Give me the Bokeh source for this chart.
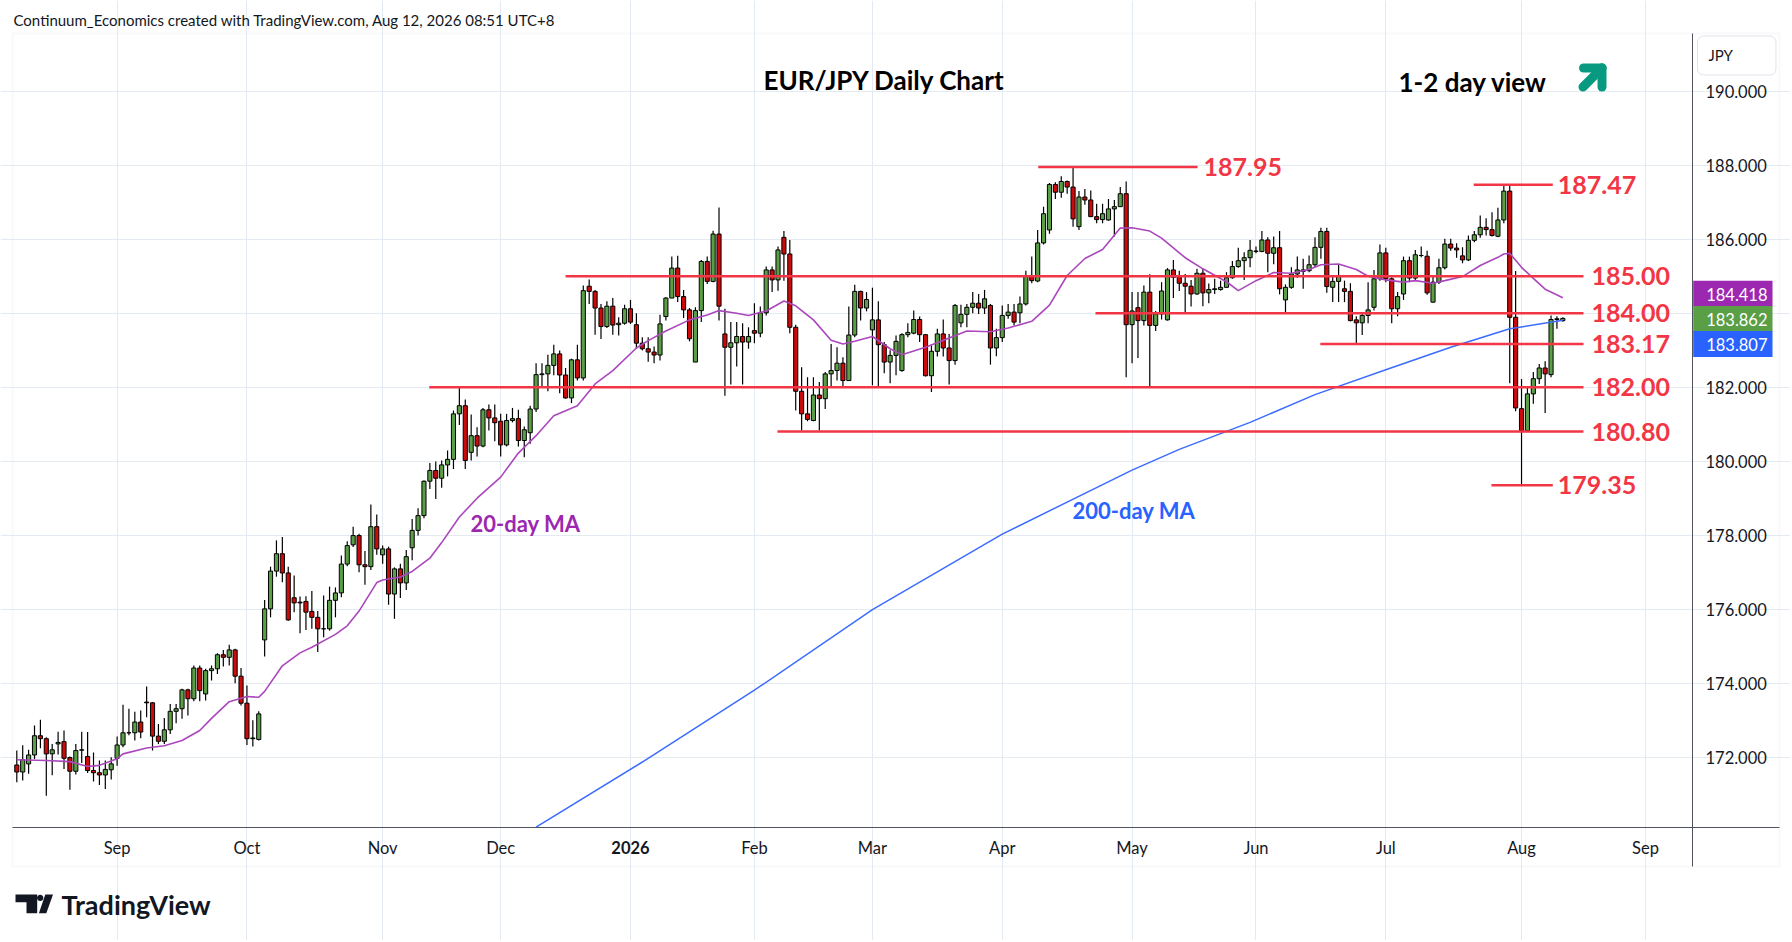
import math
import pandas as pd
from bokeh.plotting import figure
from bokeh.models import (ColumnDataSource, FixedTicker, Label, Arrow, BoxAnnotation,
                          PolyAnnotation, Range1d, PrintfTickFormatter)
from bokeh.embed import file_html
from bokeh.resources import INLINE

# ---------------- data ----------------
HOLIDAYS = ["2025-12-25", "2026-01-01"]
dates = pd.bdate_range("2025-08-07", "2026-08-12", freq="C", holidays=HOLIDAYS)
axis_days = pd.bdate_range("2025-08-07", "2026-09-30", freq="C", holidays=HOLIDAYS)

opens = [
    171.79,171.60,171.82,172.06,172.58,172.50,172.09,172.36,172.42,171.99,171.62,172.19,172.02,171.64,171.58,171.52,171.66,
    171.97,172.33,172.66,172.66,172.95,173.49,173.47,172.57,172.43,172.74,173.24,173.31,173.82,173.58,174.41,173.71,174.34,174.39,174.77,174.70,174.90,174.19,
    173.46,172.50,172.48,175.17,176.01,177.03,177.50,176.98,176.31,176.19,176.21,175.94,175.78,175.47,175.47,176.24,176.44,177.22,177.74,177.99,177.20,177.15,178.23,
    177.47,177.63,176.41,177.09,176.71,177.66,178.13,178.53,179.46,179.75,179.54,179.90,180.05,181.28,181.50,180.24,180.69,180.41,181.39,181.17,
    181.08,180.44,181.10,181.15,180.56,180.77,181.41,182.34,182.36,182.59,182.90,182.33,181.71,182.74,182.25,184.73,184.59,184.14,183.64,184.19,183.69,183.73,
    184.12,183.69,183.19,183.04,182.95,182.87,183.91,184.41,185.22,184.45,184.09,182.68,184.07,185.40,184.86,186.14,183.44,183.08,183.20,183.37,183.22,
    183.53,183.46,184.01,185.17,184.90,186.05,185.60,183.62,181.89,181.28,181.10,181.79,181.69,182.36,182.45,182.65,182.18,183.41,184.59,184.14,
    183.55,183.82,183.15,182.68,182.86,182.45,183.42,183.46,183.83,183.42,182.31,182.97,183.44,183.06,182.72,183.74,183.97,184.16,184.27,184.14,184.21,183.06,
    183.34,183.94,184.03,184.01,184.25,185.02,184.87,185.90,186.25,187.48,187.27,187.56,187.41,186.34,187.14,187.06,186.61,186.53,186.52,186.82,186.88,187.23,
    183.69,184.15,183.80,184.57,183.67,183.98,183.82,185.17,184.99,184.81,184.73,184.52,185.08,184.55,184.64,184.64,184.70,184.96,185.26,185.42,185.50,
    185.67,185.67,185.98,185.62,185.77,184.36,184.70,185.06,185.17,185.15,185.31,185.78,186.21,184.70,184.86,184.66,184.59,183.82,183.74,183.94,184.16,184.93,
    185.63,184.93,184.12,184.52,185.42,184.95,185.56,185.54,184.30,184.84,185.23,185.87,185.76,185.55,185.44,185.97,186.12,186.32,186.26,186.08,186.52,187.30,183.89,
    181.42,180.83,181.82,182.23,182.52,182.34,183.83,183.80,
]
highs = [
    172.18,172.32,172.20,172.86,173.01,172.54,172.36,172.69,172.72,172.02,172.36,172.69,172.68,172.13,171.91,171.91,172.00,
    172.56,173.42,173.31,173.23,173.26,173.91,173.49,172.90,173.06,173.44,173.44,173.85,173.85,174.48,174.48,174.39,174.48,174.81,174.90,175.04,174.93,174.41,
    173.94,173.00,173.24,176.25,177.15,177.86,177.95,177.15,176.91,176.34,176.35,176.49,175.95,176.37,176.61,176.59,177.45,177.84,178.23,178.04,177.57,178.83,178.56,
    177.72,177.69,177.13,177.23,177.60,178.44,178.73,179.48,179.95,179.99,180.02,180.29,181.37,182.00,181.67,181.26,180.92,181.44,181.53,181.53,
    181.28,181.28,181.44,181.39,180.94,181.50,182.65,182.65,182.88,183.15,182.99,182.52,182.77,183.15,184.75,184.91,184.63,184.25,184.32,184.41,183.89,184.23,
    184.36,184.00,183.35,183.35,183.10,183.96,184.43,185.53,185.55,184.63,184.14,184.16,185.44,185.53,186.23,186.86,184.12,183.76,183.76,183.73,183.62,
    184.27,184.18,185.26,185.26,185.80,186.22,185.98,183.69,182.54,182.27,182.27,182.14,182.41,183.17,183.08,182.81,184.18,184.77,184.61,184.57,
    184.69,184.32,183.22,183.00,183.40,183.46,183.73,184.07,183.91,183.44,183.13,183.58,183.83,183.44,184.25,184.23,184.25,184.57,184.52,184.63,184.25,183.58,
    184.21,184.25,184.25,184.45,185.15,185.53,186.25,186.88,187.52,187.54,187.70,187.59,187.95,187.30,187.36,187.32,186.96,186.96,187.09,187.06,187.41,187.56,
    184.57,184.57,184.75,185.05,184.06,184.84,185.22,185.44,185.15,185.06,184.90,185.20,185.20,184.80,184.93,184.88,185.11,185.41,185.77,185.65,185.98,
    185.80,186.22,186.05,186.07,186.22,184.78,185.24,185.53,185.47,185.56,186.05,186.31,186.31,185.02,185.33,184.88,184.81,183.92,184.03,184.84,185.17,185.86,
    185.77,184.97,184.57,185.53,185.53,185.71,185.80,185.69,185.02,185.47,186.01,186.01,185.89,185.78,186.10,186.22,186.64,186.57,186.73,186.85,187.47,187.47,185.14,
    182.22,181.98,182.41,182.63,182.70,183.94,183.92,183.89,
]
lows = [
    171.32,171.37,171.55,171.95,172.24,170.96,171.51,172.07,171.68,171.12,171.53,171.84,171.57,171.34,171.25,171.14,171.40,
    171.77,172.27,172.59,172.45,172.51,173.08,172.18,172.36,172.36,172.63,172.92,173.04,173.13,173.51,173.51,173.53,174.07,174.25,174.45,174.48,174.00,173.40,
    172.33,172.29,172.45,174.72,175.78,176.88,176.73,175.69,175.92,175.35,175.44,175.47,174.84,175.24,175.42,175.78,176.32,177.16,177.68,177.00,176.66,177.06,177.47,
    177.23,176.12,175.74,176.30,176.52,177.32,177.99,178.46,179.25,178.98,179.28,179.59,179.79,180.98,179.79,180.02,180.13,180.38,180.83,180.54,
    180.13,180.40,181.05,180.40,180.11,180.47,181.33,182.02,181.89,182.32,181.84,181.69,181.57,182.18,182.18,184.25,183.42,183.30,183.60,183.42,183.40,183.69,
    183.71,183.04,182.99,182.69,182.65,182.72,183.80,184.41,184.30,183.87,183.24,182.68,183.76,184.79,184.84,183.80,181.77,182.07,182.56,182.07,183.04,
    183.19,183.35,183.94,184.57,184.61,184.88,183.46,181.37,180.83,181.08,181.08,180.83,181.41,182.00,182.18,182.00,182.18,183.35,183.80,184.05,
    182.05,182.02,182.38,182.11,182.32,182.42,183.35,183.43,183.22,182.29,181.87,182.83,182.83,182.07,182.61,183.62,183.62,184.00,183.98,183.98,182.61,182.84,
    183.22,183.85,183.67,183.73,184.21,184.81,184.84,185.86,186.15,187.09,187.12,187.23,186.34,186.25,186.93,186.60,186.43,186.43,186.50,186.07,186.87,182.27,
    182.65,182.79,183.67,182.03,183.52,183.83,183.80,184.41,184.60,184.03,184.18,184.50,184.19,184.27,184.52,184.61,184.69,184.93,185.23,184.90,185.24,
    185.62,185.65,185.11,185.32,184.51,183.98,184.66,184.96,184.66,185.11,185.25,185.47,184.55,184.30,184.30,184.30,183.78,183.17,183.41,183.73,184.07,184.88,
    184.84,183.73,183.92,184.36,184.84,184.90,185.51,184.50,184.28,184.79,185.18,185.69,185.50,185.35,185.41,185.92,186.04,186.10,186.07,186.05,186.43,182.11,181.35,
    179.35,180.81,181.55,182.09,181.30,182.27,183.58,183.77,
]
closes = [
    171.60,171.93,172.06,172.58,172.50,172.09,172.20,172.40,171.97,171.62,172.18,172.20,171.64,171.58,171.52,171.67,171.82,
    172.33,172.66,172.66,172.95,172.68,173.47,172.57,172.43,172.74,173.24,173.31,173.82,173.58,174.41,173.80,174.34,174.39,174.77,174.70,174.90,174.19,173.46,
    172.50,172.52,173.17,176.01,177.03,177.50,176.98,175.71,176.17,176.17,175.92,175.78,175.47,175.47,176.24,176.44,177.22,177.72,177.99,177.20,177.15,178.23,177.63,
    177.63,176.41,177.09,176.71,177.42,178.13,178.53,179.46,179.75,179.54,179.90,180.05,181.28,181.50,180.02,180.69,180.41,181.39,181.17,181.04,
    180.44,181.10,181.15,180.56,180.85,181.41,182.34,182.36,182.59,182.90,182.33,181.71,182.74,182.25,184.61,184.59,184.14,183.64,184.19,183.68,183.73,184.12,
    183.76,183.19,183.04,182.95,182.87,183.71,184.41,185.22,184.45,184.09,183.31,184.07,185.40,184.86,186.14,184.19,183.08,183.20,183.37,183.22,183.37,
    183.46,184.01,185.17,184.90,185.71,185.60,183.62,181.89,181.28,181.13,181.79,181.69,182.36,182.45,182.65,182.18,183.41,184.59,184.14,184.37,
    183.82,183.15,182.68,182.86,183.24,183.42,183.48,183.83,183.42,182.31,182.97,183.44,183.06,182.72,184.21,183.97,184.16,184.27,184.14,184.39,183.06,183.34,
    183.94,184.03,183.76,184.25,185.02,184.88,185.90,186.69,187.48,187.27,187.56,187.41,186.55,187.14,187.06,186.61,186.53,186.69,186.82,186.88,187.23,183.69,
    184.06,183.80,184.57,183.67,183.98,184.60,185.17,184.97,184.81,184.73,184.52,185.08,184.55,184.64,184.66,184.70,184.96,185.26,185.42,185.50,185.70,
    185.68,185.98,185.62,185.77,184.66,184.70,185.06,185.17,185.13,185.31,185.78,186.21,184.72,184.86,185.00,184.59,183.80,183.74,183.94,184.09,184.93,185.63,
    184.93,184.12,184.45,185.42,184.95,185.58,185.56,184.55,184.84,185.23,185.87,185.76,185.71,185.44,185.97,186.12,186.32,186.26,186.10,186.52,187.30,183.89,181.44,
    180.83,181.82,182.23,182.52,182.36,183.83,183.85,183.86,
]

# 20-day MA (bar number, value)
ma20_bar = [0,5,9,12,14,17,18,22,25,28,31,33,36,39,41,42,45,48,50,54,56,58,61,62,65,67,70,72,75,78,
            82,85,88,91,95,98,101,105,107,110,114,117,119,122,124,127,130,132,135,138,140,142,145,148,150,
            154,158,161,165,168,172,175,178,181,184,187,189,192,194,198,201,205,207,210,213,216,219,221,224,
            227,229,232,235,237,240,242,245,248,251,252,253,255,257,259,262]
ma20_val = [171.93,171.91,171.88,171.75,171.78,171.96,172.09,172.25,172.31,172.45,172.72,173.05,173.50,173.64,173.62,
            173.78,174.47,174.82,174.97,175.32,175.55,175.95,176.72,176.79,176.87,177.02,177.38,177.80,178.49,179.00,
            179.57,180.22,180.69,181.23,181.50,182.09,182.45,183.06,183.26,183.52,183.82,183.95,184.07,184.00,183.94,
            184.06,184.33,184.20,183.82,183.27,183.17,183.24,183.37,183.04,182.88,183.08,183.33,183.52,183.50,183.60,
            183.78,184.22,185.02,185.48,185.72,186.30,186.31,186.22,186.03,185.50,185.20,184.85,184.61,184.88,185.10,
            185.08,185.18,185.31,185.33,185.18,185.00,184.90,184.84,184.88,184.81,184.88,184.99,185.29,185.51,185.60,
            185.62,185.24,184.94,184.65,184.42]
# 200-day MA
ma200_bar = [88,106,125,145,167,189,197,209,220,232,243,253,262]
ma200_val = [170.11,171.87,173.81,175.99,178.03,179.76,180.32,181.05,181.80,182.47,183.08,183.58,183.81]

ma20_last, last_close, ma200_last = 184.418, 183.862, 183.807

month_labels = ["Sep", "Oct", "Nov", "Dec", "2026", "Feb", "Mar", "Apr", "May", "Jun", "Jul", "Aug", "Sep"]
price_ticks = [172, 174, 176, 178, 180, 182, 184, 186, 188, 190]

levels = [187.95, 187.47, 185.00, 184.00, 183.17, 182.00, 180.80, 179.35]
level_text = ["187.95", "187.47", "185.00", "184.00", "183.17", "182.00", "180.80", "179.35"]

# ---------------- layout (canvas pixels; the frame fills the canvas) ----------------
W, H = 1790, 940
PX_PER_BAR = 5.9009          # horizontal scale
PX_PER_YEN = 36.999          # vertical scale
X0 = -0.39 - 14 / PX_PER_BAR          # bar value at canvas x = 0
Y_TOP = 191.56 + 33 / PX_PER_YEN      # price at canvas y = 0
def kx(px): return X0 + px / PX_PER_BAR
def py_(py): return Y_TOP - py / PX_PER_YEN
def sx(px): return px
def sy(py): return H - py

AX_X, AX_Y = 1692, 827       # price-axis line / time-axis line
BOX_L, BOX_T, BOX_R, BOX_B = 12, 33, 1779, 866

GREEN, RED = "#5a9e46", "#cc0a0a"
TXT = "#131722"
FONT = "Lato"

n = len(dates)
assert len(opens) == len(highs) == len(lows) == len(closes) == n

src = ColumnDataSource(dict(
    x=list(range(n)), o=opens, h=highs, l=lows, c=closes,
    top=[max(a, b) for a, b in zip(opens, closes)],
    bot=[min(a, b) for a, b in zip(opens, closes)],
    col=[GREEN if c >= o else RED for o, c in zip(opens, closes)],
))

month_start = [k for k in range(1, len(axis_days)) if axis_days[k].month != axis_days[k - 1].month]

p = figure(width=W, height=H, title=None,
           x_range=Range1d(kx(0), kx(W)), y_range=Range1d(py_(H), py_(0)),
           output_backend="svg", toolbar_location=None, y_axis_location="right",
           min_border_left=0, min_border_top=0, min_border_right=0, min_border_bottom=0)
p.background_fill_color = "white"
p.border_fill_color = "white"
p.outline_line_color = None

# axes fixed at the chart's price / time axis lines
yax, xax = p.yaxis[0], p.xaxis[0]
yax.fixed_location = kx(AX_X)
xax.fixed_location = py_(AX_Y)
yax.bounds = (py_(BOX_B), py_(BOX_T))
xax.bounds = (kx(BOX_L), kx(BOX_R))
yax.ticker = FixedTicker(ticks=price_ticks)
p.ygrid.ticker = FixedTicker(ticks=price_ticks)
yax.formatter = PrintfTickFormatter(format="%.3f")
xax.ticker = FixedTicker(ticks=month_start)
p.xgrid.ticker = FixedTicker(ticks=month_start)
xax.major_label_overrides = {k: ("" if lab == "2026" else lab) for k, lab in zip(month_start, month_labels)}
for ax in (xax, yax):
    ax.axis_line_color = "#50535e"
    ax.axis_line_width = 1
    ax.major_tick_line_color = None
    ax.minor_tick_line_color = None
    ax.major_tick_out = 0
    ax.major_tick_in = 0
    ax.minor_tick_out = 0
    ax.minor_tick_in = 0
    ax.major_label_text_font = FONT
    ax.major_label_text_font_size = "16.5px"
    ax.major_label_text_color = TXT
yax.major_label_standoff = 13
xax.major_label_standoff = 10
p.ygrid.bounds = (kx(BOX_L), kx(AX_X))
p.xgrid.bounds = (py_(AX_Y), py_(BOX_T))
for g in (p.xgrid[0], p.ygrid[0]):
    g.grid_line_color = "#e4eaf1"
    g.grid_line_width = 1

# chart border
p.add_layout(BoxAnnotation(left=sx(BOX_L), right=sx(BOX_R), top=sy(BOX_T), bottom=sy(BOX_B),
                           left_units="screen", right_units="screen", top_units="screen", bottom_units="screen",
                           fill_alpha=0, line_color="#e9ecf1", line_width=2, level="underlay"))

# candles
p.segment("x", "h", "x", "l", source=src, line_color="black", line_width=1.2)
p.vbar(x="x", width=0.7, top="top", bottom="bot", source=src,
       fill_color="col", line_color="black", line_width=1)

# moving averages
p.line(ma20_bar, ma20_val, line_color="#ab47bc", line_width=1.6)
p.line(ma200_bar, ma200_val, line_color="#3b6cff", line_width=1.5)

# support / resistance levels
level_x0 = [173.1, 246.9, 93.0, 182.8, 220.9, 69.9, 128.9, 249.9]
level_x1 = [200.1, 260.3, 265.5, 265.5, 265.5, 265.5, 265.5, 260.3]
level_gap = [6, 5, 8, 8, 8, 8, 8, 5]
p.segment(level_x0, levels, level_x1, levels, line_color="#f23645", line_width=2.5)
for x1, lv, txt, gap in zip(level_x1, levels, level_text, level_gap):
    p.add_layout(Label(x=x1, y=lv, x_offset=gap, text=txt, text_font=FONT, text_font_size="25px",
                       text_font_style="bold", text_color="#f23645", text_baseline="middle",
                       text_align="left"))

def lab(x, y, text, size, color=TXT, bold=False, align="left", **kw):
    p.add_layout(Label(x=x, y=y, x_units="screen", y_units="screen", text=text, text_font=FONT,
                       text_font_size=size, text_color=color,
                       text_font_style="bold" if bold else "normal",
                       text_align=align, text_baseline="middle", **kw))

# titles and notes
lab(sx(13), sy(19), "Continuum_Economics created with TradingView.com, Aug 12, 2026 08:51 UTC+8", "15px")
lab(sx(763), sy(79), "EUR/JPY Daily Chart", "26px", color="black", bold=True)
lab(sx(1398), sy(81), "1-2 day view", "26px", color="black", bold=True)
lab(sx(470), sy(523), "20-day MA", "22px", color="#9c27b0", bold=True)
lab(sx(1072), sy(510), "200-day MA", "22px", color="#2962ff", bold=True)

# teal arrow
for (x0, y0, x1, y1) in [(1583, 67.5, 1601.5, 67.5), (1601.5, 67.5, 1601.5, 86.5), (1601.5, 67.5, 1582.5, 86.5)]:
    p.add_layout(Arrow(end=None, x_start=sx(x0), y_start=sy(y0), x_end=sx(x1), y_end=sy(y1),
                       start_units="screen", end_units="screen", line_color="#089981",
                       line_width=9, line_cap="round"))

# bold year label on the time axis
p.add_layout(Label(x=month_start[month_labels.index("2026")], y=sy(847), x_units="data", y_units="screen",
                   text="2026", text_font=FONT, text_font_size="16.5px", text_font_style="bold",
                   text_color=TXT, text_align="center", text_baseline="middle"))

# price axis badges
lab(sx(1697), sy(55), "JPY", "15px", border_line_color="#e0e3eb", border_line_width=1,
    background_fill_color="white", padding=dict(left=11, right=43, top=10, bottom=11), border_radius=6)
for v, colr, cy in [(ma20_last, "#9c27b0", 293.3), (last_close, GREEN, 318.5), (ma200_last, "#2962ff", 343.4)]:
    lab(sx(1692.7), sy(cy), f"{v:.3f}", "16.5px", color="white",
        background_fill_color=colr, padding=dict(left=13, right=5, top=7, bottom=6))

# TradingView logo
def poly(pts):
    p.add_layout(PolyAnnotation(xs=[sx(a) for a, b in pts], ys=[sy(b) for a, b in pts],
                                xs_units="screen", ys_units="screen",
                                fill_color=TXT, fill_alpha=1, line_color=None))
poly([(15, 894), (36.7, 894), (36.7, 912.7), (26, 912.7), (26, 901.7), (15, 901.7)])
poly([(39.7 + 3.2 * math.cos(t * math.pi / 8), 897.4 + 3.2 * math.sin(t * math.pi / 8)) for t in range(16)])
poly([(44.8, 894), (52.5, 894), (45.8, 912.7), (38.4, 912.7)])
lab(sx(61), sy(903.5), "TradingView", "27px", bold=True)

open("out.html", "w").write(file_html(p, INLINE))
